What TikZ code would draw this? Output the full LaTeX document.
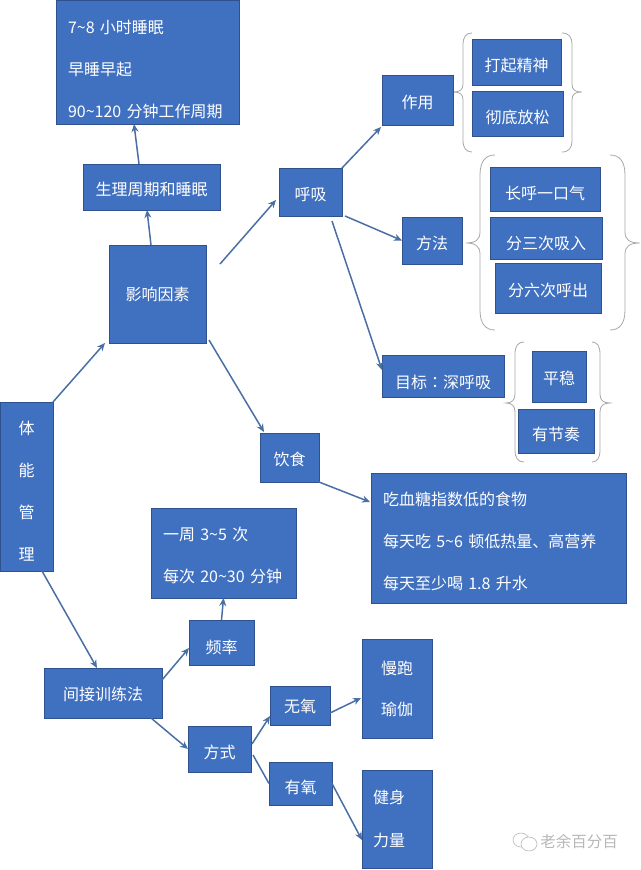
\documentclass[tikz,border=0pt]{standalone}
\usepackage{fontspec}
\setmainfont{Noto Sans CJK SC}
\newfontfamily\tcfont{Noto Sans CJK TC}
\usetikzlibrary{arrows.meta}
\definecolor{boxfill}{HTML}{4070C0}
\definecolor{boxline}{HTML}{2F528F}
\definecolor{arrowc}{HTML}{4A6FA5}
\definecolor{bracec}{HTML}{A8A8A8}
\newcommand{\dn}[1]{\rule{0pt}{\dimexpr 13pt+#1pt+#1pt\relax}}
\tikzset{
  x=1pt,y=-1pt,
  bx/.style 2 args={draw=boxline,line width=0.8pt,fill=boxfill,text=white,inner sep=0pt,outer sep=0pt,
    minimum width=#1pt,minimum height=#2pt,font=\fontsize{16}{19}\selectfont,align=center},
  lines/.style={text width=#1pt,align=left,font=\fontsize{16}{42}\selectfont},
  arr/.style={draw=arrowc,line width=1.5pt,-{Stealth[length=8pt,width=7pt]}},
  plainline/.style={draw=arrowc,line width=1.5pt},
  bracel/.style={draw=bracec,line width=0.8pt},
  mark text/.style={text=black!28,inner sep=0pt,font=\fontsize{15.5}{19}\selectfont}
}
\begin{document}
\begin{tikzpicture}
\useasboundingbox (0,0) rectangle (640,870);
\fill[white] (0,0) rectangle (640,870);
% braces
\draw[bracel] (472,33) .. controls (466,33) and (463,37) .. (463,45) -- (463,84) .. controls (463,90) and (460,92) .. (453,92) .. controls (460,92) and (463,94) .. (463,100) -- (463,140) .. controls (463,148) and (466,152) .. (472,152);
\draw[bracel] (562,33) .. controls (569,33) and (572,37) .. (572,45) -- (572,84) .. controls (572,90) and (575,92) .. (582,92) .. controls (575,92) and (572,94) .. (572,100) -- (572,140) .. controls (572,148) and (569,152) .. (562,152);
\draw[bracel] (495,155) .. controls (485,155) and (480,162) .. (480,175) -- (480,232) .. controls (480,240) and (475,243) .. (466,243) .. controls (475,243) and (480,246) .. (480,254) -- (480,310) .. controls (480,323) and (485,330) .. (495,330);
\draw[bracel] (610,155) .. controls (620,155) and (625,162) .. (625,175) -- (625,232) .. controls (625,240) and (630,243) .. (640,243) .. controls (630,243) and (625,246) .. (625,254) -- (625,310) .. controls (625,323) and (620,330) .. (610,330);
\draw[bracel] (524,342) .. controls (518,342) and (515,346) .. (515,354) -- (515,394) .. controls (515,400) and (512,403) .. (506,403) .. controls (512,403) and (515,406) .. (515,412) -- (515,450) .. controls (515,458) and (518,462) .. (524,462);
\draw[bracel] (592,342) .. controls (597,342) and (600,346) .. (600,354) -- (600,394) .. controls (600,400) and (603,403) .. (610,403) .. controls (603,403) and (600,406) .. (600,412) -- (600,450) .. controls (600,458) and (597,462) .. (592,462);
% boxes
\node[bx={183}{124},lines=159] (top) at (147.5,62) {\dn{8}7\textasciitilde8 小时睡眠\\早睡早起\\90\textasciitilde120 分钟工作周期};
\node[bx={137}{46}] (sleep) at (151.5,187) {\dn{3}生理周期和睡眠};
\node[bx={97}{98}] (factor) at (157.5,294) {\dn{1}影响因素};
\node[bx={63}{48}] (breath) at (310.5,192) {\dn{3}呼吸};
\node[bx={71}{50}] (role) at (417.5,100) {\dn{3}作用};
\node[bx={89}{46}] (up) at (516.5,62) {\dn{4}打起精神};
\node[bx={91}{45}] (relax) at (517.5,113.5) {\dn{4}彻底放松};
\node[bx={60}{47}] (method) at (432,240.5) {\dn{3}方法};
\node[bx={110}{44}] (mone) at (545,189) {\dn{5}长呼一口气};
\node[bx={112}{42}] (mtwo) at (546,238) {\dn{6}分三次吸入};
\node[bx={106}{50}] (mthree) at (548,288) {\dn{3}分六次呼出};
\node[bx={122}{42}] (goal) at (443,376) {\dn{7}目标{\tcfont ：}深呼吸};
\node[bx={54}{51}] (steady) at (559,376.5) {\dn{2}平稳};
\node[bx={76}{44}] (rhythm) at (556,431) {\dn{4}有节奏};
\node[bx={59}{49}] (diet) at (289.5,457.5) {\dn{2}饮食};
\node[bx={255}{130},lines=231] (food) at (498.5,538) {\dn{4}吃血糖指数低的食物\\每天吃 5\textasciitilde6 顿低热量、高营养\\每天至少喝 1.8 升水};
\node[bx={145}{90},lines=121] (freqt) at (223.5,553) {\dn{3}一周 3\textasciitilde5 次\\每次 20\textasciitilde30 分钟};
\node[bx={65}{45}] (freq) at (221.5,642.5) {\dn{5}频率};
\node[bx={118}{50}] (indirect) at (103,693) {\dn{2}间接训练法};
\node[bx={63}{46}] (way) at (219.5,749) {\dn{4}方式};
\node[bx={60}{39}] (anaer) at (300,705.5) {\dn{1}无氧};
\node[bx={63}{43}] (aer) at (300.5,783.5) {\dn{4}有氧};
\node[bx={70}{99},font=\fontsize{16}{41}\selectfont] (run) at (397,688.5) {慢跑\\瑜伽};
\node[bx={70}{98},lines=48,font=\fontsize{16}{43}\selectfont] (fit) at (397,819) {健身\\力量};
\node[bx={53}{169},font=\fontsize{16}{42}\selectfont] (body) at (26.5,486.5) {\dn{5}体\\能\\管\\理};
% connectors
\draw[arr] (body.north east) -- ([xshift=-4]factor.south west);
\draw[arr] ([xshift=-11]body.south east) -- ([xshift=-6]indirect.north);
\draw[arr] ([xshift=-6.5]factor.north) -- ([xshift=-4.5]sleep.south);
\draw[arr] ([xshift=-12.5]sleep.north) -- ([xshift=-13.5]top.south);
\draw[arr] ([xshift=14,yshift=30]factor.east) -- ([xshift=-3,yshift=-8]breath.west);
\draw[arr] ([xshift=3,yshift=3]factor.south east) -- ([xshift=4,yshift=1]diet.north west);
\draw[arr] (breath.north east) -- ([xshift=-1,yshift=-2]role.south west);
\draw[arr] ([xshift=3]breath.south east) -- (method.west);
\draw[arr] ([xshift=-10,yshift=-5]breath.south east) -- ([yshift=-15]goal.north west);
\draw[arr] (diet.south east) -- ([xshift=-1,yshift=-29]food.north west);
\draw[arr] ([yshift=-12]indirect.north east) -- ([yshift=-28]freq.north west);
\draw[arr] (freq.north) -- (freqt.south);
\draw[arr] ([xshift=-11]indirect.south east) -- (way.west);
\draw[arr] ([xshift=1,yshift=5]way.east) -- ([yshift=9]anaer.south west);
\draw[plainline] ([xshift=2,yshift=-6]way.east) -- (aer.west);
\draw[arr] ([yshift=12]anaer.south east) -- ([xshift=-1,yshift=-9.5]run.west);
\draw[arr] (aer.east) -- ([yshift=-21]fit.west);
% watermark
\draw[black!28,line width=0.6pt] (521,840) ellipse [x radius=8,y radius=7];
\draw[black!28,line width=0.6pt,fill=white] (529,844) ellipse [x radius=8,y radius=7];
\node[mark text] (wm) at (579,842) {老余百分百};
\end{tikzpicture}
\end{document}
